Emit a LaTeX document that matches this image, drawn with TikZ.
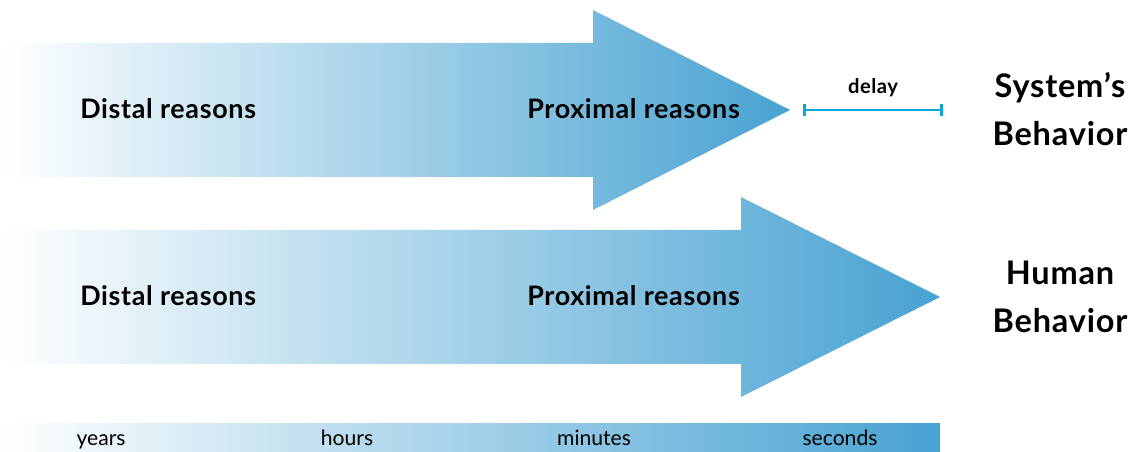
\documentclass[tikz,border=0pt]{standalone}
\usepackage{fontspec}
\setmainfont{Lato}
\newfontfamily\widefont[LetterSpace=2.5]{Lato}
\usetikzlibrary{arrows.meta}
\definecolor{arrowblue}{RGB}{72,162,210}
\definecolor{delayblue}{RGB}{10,165,215}
\tikzset{
  reason/.style={font=\widefont\bfseries\fontsize{15.3}{16}\selectfont, anchor=base west, inner sep=0pt},
  behavior/.style={font=\widefont\bfseries\fontsize{18.5}{27}\selectfont, align=center, inner sep=0pt},
  timelabel/.style={font=\fontsize{12}{14}\selectfont, anchor=base, inner sep=0pt}
}
\begin{document}
\begin{tikzpicture}[x=0.02cm, y=-0.02cm]
\useasboundingbox (0,0) rectangle (1139,452);
\def\sys{110}
\def\hum{297}

% top arrow
\shade[left color=white, right color=arrowblue]
(0,\sys-67) -- (593,\sys-67) -- (593,\sys-100) -- (790,\sys)
-- (593,\sys+100) -- (593,\sys+67) -- (0,\sys+67) -- cycle;
% bottom arrow
\shade[left color=white, right color=arrowblue]
(0,\hum-67) -- (741,\hum-67) -- (741,\hum-100) -- (940,\hum)
-- (741,\hum+100) -- (741,\hum+67) -- (0,\hum+67) -- cycle;
% time scale
\shade[left color=white, right color=arrowblue] (0,423) rectangle (940,452);

\node[reason] (sysdistal) at (80,\sys+9) {Distal reasons};
\node[reason] (sysproximal) at (527,\sys+9) {Proximal reasons};
\node[reason] (humdistal) at (80,\hum+9) {Distal reasons};
\node[reason] (humproximal) at (527,\hum+9) {Proximal reasons};

\coordinate (delayL) at (803,\sys);
\coordinate (delayR) at (943,\sys);
\draw[delayblue, line width=1.6pt, {Bar[width=7pt]}-{Bar[width=7pt]}] (delayL) -- (delayR);
\node[font=\widefont\bfseries\fontsize{11.5}{12}\selectfont, inner sep=0pt] (delay) at (873,88) {delay};

\node[behavior] (sysbeh) at (1060,109) {System’s\\Behavior};
\node[behavior] (humbeh) at (1060,297) {Human\\Behavior};

\node[timelabel] (years) at (101,445) {years};
\node[timelabel] (hours) at (347,445) {hours};
\node[timelabel] (minutes) at (594,445) {minutes};
\node[timelabel] (seconds) at (840,445) {seconds};
\end{tikzpicture}
\end{document}
